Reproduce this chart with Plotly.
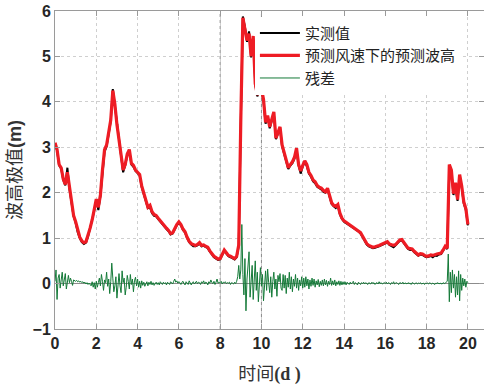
import numpy as np
import plotly.graph_objects as go

# Time axis (days)
t_wave = np.round(np.arange(0, 20.001, 0.1), 2)
t_res = np.round(np.arange(0, 20.001, 0.05), 3)

# Predicted wave-height extremes under forecast wind (m), 0.1 d step
predicted = [
    3.10, 2.95, 2.62, 2.55, 2.30, 2.18, 2.45, 2.10, 1.80, 1.50,
    1.36, 1.15, 1.02, 0.94, 0.90, 0.92, 1.05, 1.22, 1.40, 1.62,
    1.86, 1.68, 1.95, 2.50, 2.95, 3.05, 3.35, 3.60, 4.25, 3.95,
    3.50, 3.20, 2.90, 2.50, 2.62, 2.85, 2.95, 2.65, 2.60, 2.50,
    2.45, 2.40, 2.15, 1.98, 1.85, 1.68, 1.72, 1.58, 1.52, 1.50,
    1.44, 1.38, 1.33, 1.26, 1.22, 1.17, 1.10, 1.12, 1.22, 1.30,
    1.36, 1.30, 1.20, 1.14, 1.02, 0.93, 0.88, 0.86, 0.84, 0.86,
    0.90, 0.84, 0.85, 0.82, 0.80, 0.72, 0.65, 0.60, 0.57, 0.54,
    0.55, 0.64, 0.74, 0.68, 0.62, 0.60, 0.57, 0.55, 0.60, 0.85,
    3.60, 5.85, 5.60, 5.35, 5.50, 5.00, 5.45, 4.40, 4.15, 4.32,
    4.30, 4.05, 3.55, 3.70, 3.45, 3.62, 3.78, 3.20, 3.35, 3.45,
    3.05, 2.88, 2.75, 2.55, 2.62, 2.68, 2.78, 2.98, 2.62, 2.48,
    2.60, 2.70, 2.62, 2.45, 2.38, 2.28, 2.24, 2.16, 2.12, 2.10,
    2.05, 2.02, 2.10, 1.95, 1.78, 1.72, 1.70, 1.74, 1.55, 1.44,
    1.38, 1.35, 1.32, 1.28, 1.25, 1.22, 1.20, 1.17, 1.12, 1.04,
    0.95, 0.88, 0.84, 0.81, 0.80, 0.81, 0.82, 0.84, 0.86, 0.88,
    0.90, 0.92, 0.87, 0.85, 0.84, 0.86, 0.92, 0.96, 0.97, 0.90,
    0.84, 0.78, 0.77, 0.76, 0.71, 0.66, 0.63, 0.66, 0.65, 0.62,
    0.60, 0.61, 0.63, 0.62, 0.64, 0.65, 0.66, 0.67, 0.74, 0.82,
    0.78, 2.62, 2.50, 1.98, 2.22, 1.85, 2.40, 2.15, 1.80, 1.65,
    1.30,
]

# Measured wave-height extremes (m), 0.1 d step
measured = [
    3.08, 2.93, 2.60, 2.53, 2.28, 2.16, 2.55, 2.08, 1.78, 1.48,
    1.34, 1.13, 1.00, 0.91, 0.87, 0.90, 1.03, 1.20, 1.38, 1.60,
    1.84, 1.62, 1.93, 2.48, 2.90, 3.02, 3.32, 3.57, 4.28, 3.92,
    3.48, 3.18, 2.88, 2.45, 2.60, 2.83, 2.93, 2.62, 2.57, 2.48,
    2.43, 2.38, 2.12, 1.95, 1.80, 1.66, 1.68, 1.55, 1.49, 1.48,
    1.42, 1.36, 1.31, 1.24, 1.20, 1.15, 1.08, 1.10, 1.20, 1.28,
    1.34, 1.28, 1.18, 1.12, 1.00, 0.91, 0.86, 0.82, 0.82, 0.84,
    0.88, 0.82, 0.83, 0.80, 0.78, 0.70, 0.63, 0.58, 0.55, 0.52,
    0.53, 0.62, 0.72, 0.66, 0.60, 0.58, 0.55, 0.53, 0.58, 0.83,
    3.55, 5.88, 5.65, 5.32, 5.55, 4.98, 5.42, 4.38, 4.12, 4.30,
    4.28, 4.02, 3.52, 3.68, 3.42, 3.58, 3.75, 3.18, 3.32, 3.42,
    3.02, 2.85, 2.68, 2.52, 2.60, 2.65, 2.75, 2.95, 2.60, 2.42,
    2.58, 2.68, 2.58, 2.42, 2.35, 2.25, 2.21, 2.13, 2.10, 2.07,
    2.02, 2.00, 2.07, 1.92, 1.75, 1.70, 1.66, 1.72, 1.52, 1.42,
    1.36, 1.33, 1.30, 1.26, 1.23, 1.20, 1.18, 1.15, 1.10, 1.02,
    0.93, 0.86, 0.82, 0.79, 0.78, 0.79, 0.80, 0.82, 0.84, 0.86,
    0.88, 0.90, 0.85, 0.83, 0.80, 0.84, 0.90, 0.94, 0.95, 0.88,
    0.82, 0.76, 0.74, 0.74, 0.69, 0.64, 0.61, 0.64, 0.63, 0.60,
    0.58, 0.59, 0.61, 0.58, 0.62, 0.61, 0.64, 0.65, 0.72, 0.80,
    0.76, 2.60, 2.48, 1.95, 2.12, 1.82, 2.38, 2.12, 1.76, 1.62,
    1.28,
]

# Residuals (m), 0.05 d step
residual = [
    0.05, 0.30, -0.35, 0.12, 0.20, -0.10, 0.08, 0.25, -0.05, 0.15, 0.22, -0.12, 0.10, 0.18, 0.02, 0.12, 0.05, -0.04, 0.08, 0.06,
    0.05, 0.07, 0.04, 0.06, 0.03, 0.05, 0.02, 0.04, 0.01, 0.03, -0.01, 0.02, -0.02, 0.01, -0.03, -0.05, 0.04, -0.08, 0.02, -0.12,
    0.05, -0.08, 0.02, 0.12, -0.05, 0.20, 0.05, -0.15, 0.08, 0.02, 0.25, -0.06, 0.10, -0.22, 0.04, 0.45, 0.12, -0.18, -0.05, 0.15,
    -0.32, 0.08, 0.22, -0.05, -0.20, 0.28, 0.02, 0.12, -0.25, -0.08, 0.18, 0.05, -0.12, 0.20, -0.02, 0.10, -0.18, 0.06, 0.14, -0.05,
    0.10, -0.08, 0.05, -0.10, 0.06, -0.04, 0.03, -0.06, 0.02, 0.04, -0.05, 0.03, -0.02, 0.05, -0.03, 0.02, -0.04, 0.01, 0.03, -0.02,
    0.02, -0.03, 0.04, 0.01, -0.02, 0.03, 0.00, 0.02, -0.03, 0.03, 0.01, -0.02, 0.04, 0.02, -0.01, 0.05, 0.10, 0.03, 0.06, 0.01,
    0.04, 0.02, -0.02, 0.03, 0.05, 0.00, -0.03, 0.04, 0.02, -0.02, 0.06, 0.01, -0.03, 0.02, 0.04, -0.01, 0.02, 0.05, 0.00, 0.03,
    0.02, -0.02, 0.04, 0.01, 0.06, -0.01, 0.03, 0.02, -0.03, 0.04, 0.01, 0.08, 0.02, 0.00, 0.05, -0.02, 0.03, 0.10, 0.01, 0.03,
    0.02, 0.05, -0.01, 0.03, 0.02, 0.04, 0.00, 0.02, 0.01, 0.03, -0.02, 0.02, 0.01, -0.01, 0.03, 0.00, 0.05, 0.15, 0.40, 0.10,
    0.30, 1.30, 0.20, -0.25, 0.55, -0.60, 0.10, 0.45, 0.70, -0.30, 0.15, 0.40, -0.35, 0.05, 0.50, -0.15, 0.25, -0.40, 0.10, 0.35,
    -0.05, 0.20, -0.38, 0.08, 0.28, -0.15, 0.32, 0.02, -0.20, 0.15, -0.30, 0.05, 0.25, -0.12, 0.10, -0.28, 0.18, 0.04, 0.22, -0.10,
    -0.15, 0.20, -0.10, 0.18, -0.22, 0.12, -0.08, 0.25, -0.12, 0.15, -0.18, 0.10, -0.06, 0.20, -0.10, 0.12, -0.15, 0.08, -0.05, 0.15,
    -0.10, 0.12, -0.08, 0.15, -0.05, 0.10, -0.12, 0.08, -0.06, 0.12, -0.04, 0.10, -0.08, 0.06, -0.03, 0.09, -0.07, 0.05, -0.04, 0.08,
    -0.05, 0.10, -0.03, 0.07, -0.06, 0.05, -0.02, 0.12, -0.04, 0.06, -0.03, 0.08, -0.05, 0.04, -0.02, 0.06, -0.04, 0.05, -0.03, 0.04,
    -0.02, 0.04, -0.03, 0.03, 0.01, -0.02, 0.03, -0.01, 0.02, 0.05, -0.02, 0.02, 0.00, -0.03, 0.03, 0.01, -0.02, 0.02, 0.00, 0.03,
    -0.01, 0.02, 0.00, -0.02, 0.02, 0.01, -0.01, 0.03, 0.00, 0.02, -0.02, 0.01, 0.02, -0.01, 0.04, 0.00, 0.02, -0.01, 0.01, 0.02,
    0.00, 0.03, -0.01, 0.02, 0.01, -0.02, 0.02, 0.00, 0.04, -0.01, 0.01, 0.02, 0.00, -0.02, 0.02, 0.01, 0.00, 0.03, -0.01, 0.01,
    0.01, -0.01, 0.02, 0.00, 0.01, -0.02, 0.02, 0.01, -0.01, 0.00, 0.02, -0.01, 0.01, 0.00, 0.02, -0.01, 0.00, 0.01, -0.02, 0.01,
    0.00, 0.01, -0.01, 0.02, 0.00, -0.01, 0.01, 0.00, -0.02, 0.01, 0.00, 0.02, -0.01, 0.01, 0.00, -0.01, 0.02, 0.00, 0.01, 0.03,
    0.05, 0.65, -0.40, 0.25, -0.20, 0.30, -0.10, 0.20, -0.30, 0.15, -0.25, 0.28, -0.38, 0.20, -0.15, 0.12, -0.05, 0.10, -0.08, 0.05,
    0.02,
]

x_ticks = [0, 2, 4, 6, 8, 10, 12, 14, 16, 18, 20]
y_ticks = [-1, 0, 1, 2, 3, 4, 5, 6]
marker_days = [8, 10]

fig = go.Figure()
fig.add_trace(go.Scatter(x=t_wave, y=measured, mode="lines", name="实测值",
                         line=dict(color="#000000", width=2)))
fig.add_trace(go.Scatter(x=t_wave, y=predicted, mode="lines", name="预测风速下的预测波高",
                         line=dict(color="#ee1c24", width=3.2)))
fig.add_trace(go.Scatter(x=t_res, y=residual, mode="lines", name="残差",
                         line=dict(color="#147a38", width=1)))

for d in marker_days:
    fig.add_shape(type="line", xref="x", yref="y", x0=d, x1=d, y0=-1, y1=6,
                  line=dict(color="#8a8a8a", width=1, dash="3px,3px"), layer="below")

axis_common = dict(
    showline=True, linecolor="#9a9a9a", linewidth=1, mirror="ticks",
    ticks="inside", ticklen=5, tickcolor="#9a9a9a",
    showgrid=True, gridcolor="#cfcfcf", griddash="dot", gridwidth=1,
    tickfont=dict(family="Liberation Sans, Arial", size=16, color="#262626", weight="bold"),
)

fig.update_xaxes(range=[0, 20.78], tickvals=x_ticks, zeroline=False,
                 title=dict(text='时间<span style="font-family:Liberation Serif"><b>(d )</b></span>',
                            font=dict(family="Noto Sans CJK SC", size=18, color="#333333"),
                            standoff=16),
                 **axis_common)
fig.update_yaxes(range=[-1, 6], tickvals=y_ticks,
                 zeroline=True, zerolinecolor="#8c8c8c", zerolinewidth=1,
                 title=dict(text='波高极值<span style="font-family:Liberation Sans"><b>(m)</b></span>',
                            font=dict(family="Noto Sans CJK SC", size=18, color="#333333"),
                            standoff=6),
                 **axis_common)

fig.update_layout(
    width=484, height=388,
    margin=dict(l=55, r=0, t=11, b=59),
    paper_bgcolor="white", plot_bgcolor="white",
    showlegend=True,
    legend=dict(x=0.466, y=0.982, xanchor="left", yanchor="top",
                bgcolor="white", borderwidth=0,
                font=dict(family="Noto Sans CJK SC", size=15, color="#222222"),
                itemwidth=40, tracegroupgap=0),
)

fig.write_html("out.html")
